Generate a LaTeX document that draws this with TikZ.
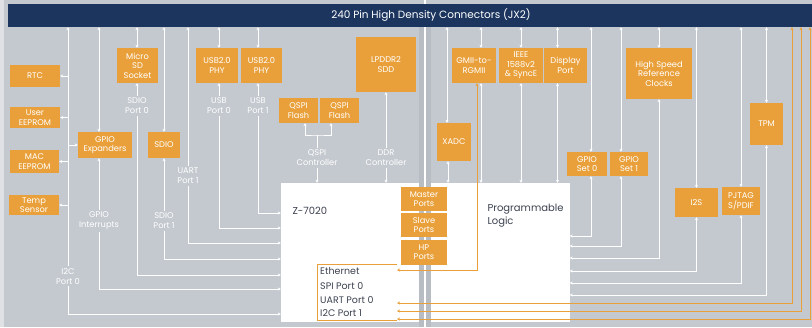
\documentclass[tikz,border=0pt]{standalone}
\usepackage{fontspec}
\setmainfont{Poppins}
\usetikzlibrary{arrows.meta,positioning}
\definecolor{bggray}{HTML}{C4C9CF}
\definecolor{divgray}{HTML}{B8BDC4}
\definecolor{zorange}{HTML}{E9A03A}
\definecolor{navy}{HTML}{1B355E}
\definecolor{inktext}{HTML}{3C4250}
\begin{document}
\begin{tikzpicture}[x=1pt,y=-1pt,
		wh/.style 2 args={minimum width=#1pt,minimum height=#2pt},
		box/.style={fill=zorange,text=white,align=center,inner sep=0,font=\fontsize{8.3}{9.6}\selectfont},
		chip/.style={fill=white,inner sep=0},
		lbl/.style={text=white,align=center,inner sep=1.5pt,font=\fontsize{8.3}{10}\selectfont},
		port/.style={anchor=west,text=inktext,inner sep=0,font=\fontsize{9.5}{10}\selectfont},
		link/.style={white,line width=0.9pt},
		olink/.style={zorange,line width=1pt},
		>={Stealth[length=3pt,width=3pt]}]
		\useasboundingbox (0,0) rectangle (812,327);
		\fill[bggray!55!white] (0,0) rectangle (812,327);
		\fill[bggray] (4,0) rectangle (812,327);
		\fill[divgray] (419,27) rectangle (431,327);
		\draw[white,line width=1.5pt] (425,0) -- (425,327);
		\node[fill=navy,wh={804}{23},inner sep=0] (hdr) at (410,15.5) {};
		\node[text=white,font=\fontsize{10.5}{12}\selectfont] (hdrtext) at (431,15.5) {240 Pin High Density Connectors (JX2)};
		\node[chip,wh={138}{139}] (zynq) at (350,252.5) {};
		\node[chip,wh={139}{139}] (pl) at (500,252.5) {};
		\node[anchor=west,text=inktext,font=\fontsize{10}{12}\selectfont] (ztext) at (289,211) {Z-7020};
		\node[anchor=north west,align=left,text=inktext,font=\fontsize{10}{13}\selectfont] (pltext) at (484,201) {Programmable\\Logic};
		\begin{scope}[nodes={box}]
		\node[wh={50}{22}] (rtc) at (35,76) {RTC};
		\node[wh={50}{21}] (ueeprom) at (35,117.5) {User\\EEPROM};
		\node[wh={49}{23}] (meeprom) at (34.5,161.5) {MAC\\EEPROM};
		\node[wh={50}{20}] (temp) at (34,205) {Temp\\Sensor};
		\node[wh={54}{26}] (gpioexp) at (105,145) {GPIO\\Expanders};
		\node[wh={41}{35}] (sd) at (137.5,65.5) {Micro\\SD\\Socket};
		\node[wh={32}{26}] (sdio) at (164,145) {SDIO};
		\node[wh={42}{35}] (usb0) at (217,65.5) {USB2.0\\PHY};
		\node[wh={41}{35}] (usb1) at (261.5,65.5) {USB2.0\\PHY};
		\node[wh={39}{25}] (qspi1) at (298.5,110.5) {QSPI\\Flash};
		\node[wh={39}{25}] (qspi2) at (339.5,110.5) {QSPI\\Flash};
		\node[wh={60}{55}] (ddr) at (386,64.5) {LPDDR2\\SDD};
		\node[wh={46}{24}] (master) at (424,199) {Master\\Ports};
		\node[wh={46}{24}] (slave) at (424,225) {Slave\\Ports};
		\node[wh={46}{25}] (hp) at (424,252) {HP\\Ports};
		\node[wh={34}{38}] (xadc) at (454,142) {XADC};
		\node[wh={44}{35}] (gmii) at (474,65.5) {GMII-to-\\RGMII};
		\node[wh={44}{35}] (ieee) at (521,65.5) {IEEE\\1588v2\\\& SyncE};
		\node[wh={43}{35}] (disp) at (565.5,65.5) {Display\\Port};
		\node[wh={40}{24}] (gpio0) at (587,164) {GPIO\\Set 0};
		\node[wh={38}{24}] (gpio1) at (629,164) {GPIO\\Set 1};
		\node[wh={66}{51}] (hsclk) at (659,73.5) {High Speed\\Reference\\Clocks};
		\node[wh={33}{42}] (tpm) at (766.5,124) {TPM};
		\node[wh={43}{29}] (i2s) at (696.5,202.5) {I2S};
		\node[wh={38}{28}] (jtag) at (741,201) {PJTAG\\S/PDIF};
		\end{scope}
		\node[lbl] (i2cp0) at (68,276) {I2C\\Port 0};
		\node[lbl] (gpioint) at (99,221) {GPIO\\Interrupts};
		\node[lbl] (sdp0) at (137,106) {SDIO\\Port 0};
		\node[lbl] (sdp1) at (164,221) {SDIO\\Port 1};
		\node[lbl] (uartp1) at (188,176) {UART\\Port 1};
		\node[lbl] (usbp0) at (219,106) {USB\\Port 0};
		\node[lbl] (usbp1) at (258,106) {USB\\Port 1};
		\node[lbl] (qspic) at (317,158) {QSPI\\Controller};
		\node[lbl] (ddrc) at (386,158) {DDR\\Controller};
		\node[port] (eth) at (320,271) {Ethernet};
		\node[port] (spi0) at (320,286) {SPI Port 0};
		\node[port] (uart0) at (320,300) {UART Port 0};
		\node[port] (i2c1) at (320,313) {I2C Port 1};
		\draw[link,<-] (i2cp0 |- hdr.south) -- (i2cp0.north);
		\draw[link,->] (rtc.east -| i2cp0) -- (rtc.east);
		\draw[link,->] (ueeprom.east -| i2cp0) -- (ueeprom.east);
		\draw[link,->] (meeprom.east -| i2cp0) -- (meeprom.east);
		\draw[link,->] (temp.east -| i2cp0) -- (temp.east);
		\draw[link,->] (gpioexp.west -| i2cp0) -- (gpioexp.west);
		\draw[link,->] (i2cp0.south) |- (zynq.west |- 0,314);
		\draw[link,<->] (gpioint |- hdr.south) -- (gpioint |- gpioexp.north);
		\draw[link,<-] (gpioint |- gpioexp.south) -- (gpioint.north);
		\draw[link,->] (gpioint.south) |- (zynq.west |- 0,289);
		\draw[link,<->] (sdp0 |- hdr.south) -- (sdp0 |- sd.north);
		\draw[link,<-] (sdp0 |- sd.south) -- (sdp0.north);
		\draw[link,->] (sdp0.south) |- (zynq.west |- 0,275);
		\draw[link,<->] (sdp1 |- hdr.south) -- (sdp1 |- sdio.north);
		\draw[link,<-] (sdp1 |- sdio.south) -- (sdp1.north);
		\draw[link,->] (sdp1.south) |- (zynq.west |- 0,259);
		\draw[link,<-] (uartp1 |- hdr.south) -- (uartp1.north);
		\draw[link,->] (uartp1.south) |- (zynq.west |- 0,243);
		\draw[link,<->] (usbp0 |- hdr.south) -- (usbp0 |- usb0.north);
		\draw[link,<-] (usbp0 |- usb0.south) -- (usbp0.north);
		\draw[link,->] (usbp0.south) |- (zynq.west |- 0,228);
		\draw[link,<->] (usbp1 |- hdr.south) -- (usbp1 |- usb1.north);
		\draw[link,<-] (usbp1 |- usb1.south) -- (usbp1.north);
		\draw[link,->] (usbp1.south) |- (zynq.west |- 0,213);
		\coordinate (qjoin) at (317,135);
		\coordinate (qleft) at ([xshift=6.5pt]qspi1.south);
		\coordinate (qright) at ([xshift=-8.5pt]qspi2.south);
		\draw[link,<->] (qleft) |- (qjoin) -| (qright);
		\draw[link] (qjoin) -- (qspic.north);
		\draw[link,->] (qspic.south) -- (qspic |- zynq.north);
		\draw[link,<-] (ddr.south) -- (ddrc.north);
		\draw[link,->] (ddrc.south) -- (ddrc |- zynq.north);
		\coordinate (xadctop) at ([xshift=-7pt]xadc.north);
		\coordinate (xadcbot) at ([xshift=-6pt]xadc.south);
		\coordinate (gmiitop) at ([xshift=7pt]gmii.north);
		\coordinate (gmiibot) at ([xshift=7pt]gmii.south);
		\coordinate (disptop) at ([xshift=-8pt]disp.north);
		\coordinate (dispbot) at ([xshift=-8pt]disp.south);
		\coordinate (gpio0top) at ([xshift=4pt]gpio0.north);
		\coordinate (gpio0bot) at ([xshift=4pt]gpio0.south);
		\coordinate (gpio1top) at ([xshift=-8pt]gpio1.north);
		\coordinate (gpio1bot) at ([xshift=-8pt]gpio1.south);
		\draw[link,<->] (xadctop |- hdr.south) -- (xadctop);
		\draw[link,<->] (xadcbot) -- (xadcbot |- pl.north);
		\draw[link,<->] (gmiitop |- hdr.south) -- (gmiitop);
		\draw[link,<->] (gmiibot) -- (gmiibot |- pl.north);
		\draw[link,<->] (ieee.north |- hdr.south) -- (ieee.north);
		\draw[link,<->] (ieee.south) -- (ieee.south |- pl.north);
		\draw[link,<->] (disptop |- hdr.south) -- (disptop);
		\draw[link,<->] (dispbot) -- (dispbot |- pl.north);
		\draw[link,<->] (gpio0top |- hdr.south) -- (gpio0top);
		\draw[link,<->] (gpio0bot) |- (pl.east |- 0,236);
		\draw[link,<->] (gpio1top |- hdr.south) -- (gpio1top);
		\draw[link,<->] (gpio1bot) |- (pl.east |- 0,246);
		\draw[link,<->] (hsclk.north |- hdr.south) -- (hsclk.north);
		\draw[link,<->] (hsclk.south) |- (pl.east |- 0,258);
		\draw[link,<->] (i2s.north |- hdr.south) -- (i2s.north);
		\draw[link,<->] (i2s.south) |- (pl.east |- 0,271);
		\draw[link,<->] (jtag.north |- hdr.south) -- (jtag.north);
		\draw[link,<->] (jtag.south) |- (pl.east |- 0,283);
		\draw[link,<->] (tpm.north |- hdr.south) -- (tpm.north);
		\draw[link,<->] (tpm.south) |- (pl.east |- 0,295);
		\draw[olink] (397,264) -- (317,264) -- (317,320) -- (397,320);
		\coordinate (ethin) at (397,270);
		\coordinate (porta) at (397,303);
		\coordinate (portb) at (397,311);
		\coordinate (portc) at (397,319);
		\draw[olink,<->] ([xshift=3pt]gmii.south) |- (ethin);
		\draw[olink,<->] (792,0 |- hdr.south) |- (porta);
		\draw[olink,<->] (801,0 |- hdr.south) |- (portb);
		\draw[olink,<->] (810,0 |- hdr.south) |- (portc);
\end{tikzpicture}
\end{document}
